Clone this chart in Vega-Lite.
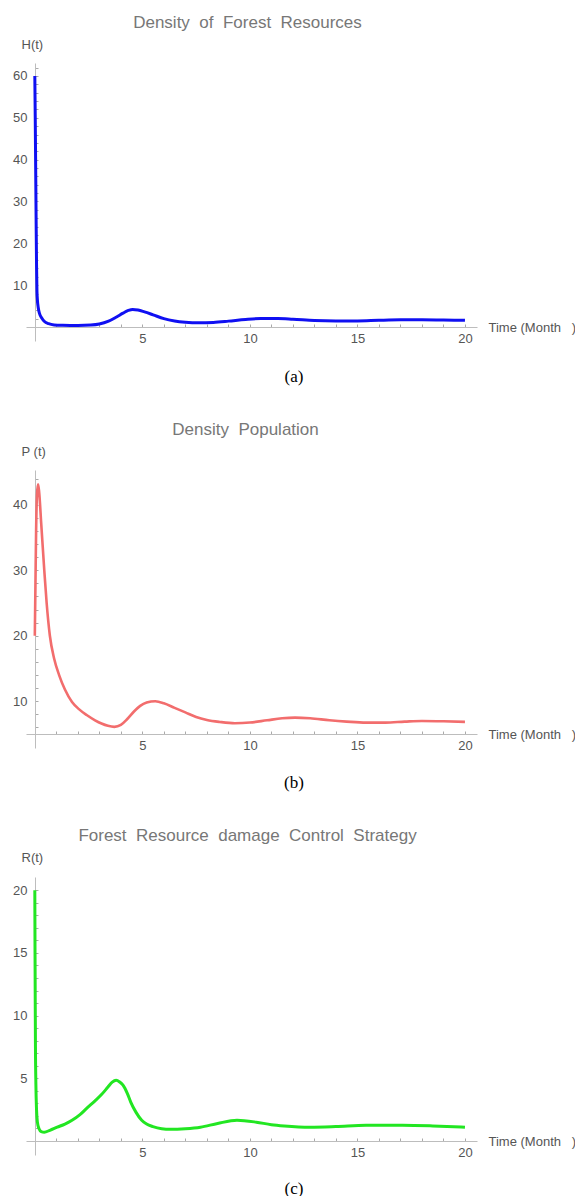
{
  "$schema": "https://vega.github.io/schema/vega-lite/v6.json",
  "padding": {"left": 12, "top": 14, "right": 0, "bottom": 0},
  "background": "white",
  "spacing": 37,
  "config": {
    "view": {"stroke": null},
    "axis": {"grid": false, "domainColor": "#bdbdbd", "tickColor": "#aaaaaa", "labelColor": "#555555", "labelFont": "Liberation Sans", "labelFontSize": 13, "titleFont": "Liberation Sans", "titleFontSize": 13, "titleFontWeight": "normal", "titleColor": "#555555"},
    "title": {"font": "Liberation Sans", "fontSize": 17, "fontWeight": "normal", "color": "#777777", "anchor": "middle", "frame": "group"}
  },
  "datasets": {
    "H": [
      {"t": 0, "v": 60}, {"t": 0.02, "v": 50}, {"t": 0.04, "v": 38}, {"t": 0.06, "v": 26}, {"t": 0.08, "v": 15},
      {"t": 0.1, "v": 8.5}, {"t": 0.12, "v": 6.5}, {"t": 0.16, "v": 4.6}, {"t": 0.22, "v": 3.2}, {"t": 0.33, "v": 2.1},
      {"t": 0.45, "v": 1.3}, {"t": 0.64, "v": 0.8}, {"t": 0.9, "v": 0.5}, {"t": 1.3, "v": 0.4}, {"t": 2.0, "v": 0.35},
      {"t": 2.6, "v": 0.45}, {"t": 3.0, "v": 0.7}, {"t": 3.43, "v": 1.4}, {"t": 3.8, "v": 2.4}, {"t": 4.1, "v": 3.3},
      {"t": 4.35, "v": 3.95}, {"t": 4.55, "v": 4.2}, {"t": 4.8, "v": 4.05}, {"t": 5.1, "v": 3.6}, {"t": 5.5, "v": 2.9},
      {"t": 6.0, "v": 2.0}, {"t": 6.5, "v": 1.45}, {"t": 7.0, "v": 1.15}, {"t": 7.6, "v": 1.0}, {"t": 8.3, "v": 1.1},
      {"t": 9.0, "v": 1.4}, {"t": 9.8, "v": 1.8}, {"t": 10.5, "v": 2.0}, {"t": 11.3, "v": 2.0}, {"t": 12.0, "v": 1.85},
      {"t": 13.0, "v": 1.55}, {"t": 14.0, "v": 1.45}, {"t": 15.0, "v": 1.45}, {"t": 16.0, "v": 1.6}, {"t": 17.0, "v": 1.7},
      {"t": 18.0, "v": 1.7}, {"t": 19.0, "v": 1.65}, {"t": 20.0, "v": 1.6}
    ],
    "P": [
      {"t": 0, "v": 20}, {"t": 0.03, "v": 28}, {"t": 0.06, "v": 36}, {"t": 0.1, "v": 41.5}, {"t": 0.15, "v": 43.1},
      {"t": 0.2, "v": 42}, {"t": 0.3, "v": 37}, {"t": 0.44, "v": 30}, {"t": 0.55, "v": 25}, {"t": 0.7, "v": 20},
      {"t": 0.9, "v": 16.5}, {"t": 1.13, "v": 14}, {"t": 1.4, "v": 11.8}, {"t": 1.73, "v": 9.9}, {"t": 2.05, "v": 8.8},
      {"t": 2.41, "v": 7.9}, {"t": 2.8, "v": 7.1}, {"t": 3.1, "v": 6.6}, {"t": 3.4, "v": 6.25}, {"t": 3.7, "v": 6.1},
      {"t": 4.0, "v": 6.4}, {"t": 4.3, "v": 7.3}, {"t": 4.6, "v": 8.4}, {"t": 4.9, "v": 9.3}, {"t": 5.2, "v": 9.8},
      {"t": 5.6, "v": 10.0}, {"t": 6.0, "v": 9.7}, {"t": 6.5, "v": 9.0}, {"t": 7.0, "v": 8.3}, {"t": 7.5, "v": 7.6},
      {"t": 8.0, "v": 7.15}, {"t": 8.6, "v": 6.85}, {"t": 9.3, "v": 6.65}, {"t": 10.0, "v": 6.75}, {"t": 10.8, "v": 7.1},
      {"t": 11.5, "v": 7.4}, {"t": 12.1, "v": 7.5}, {"t": 12.8, "v": 7.4}, {"t": 13.7, "v": 7.1}, {"t": 14.5, "v": 6.9},
      {"t": 15.4, "v": 6.75}, {"t": 16.3, "v": 6.75}, {"t": 17.2, "v": 6.9}, {"t": 18.0, "v": 7.0}, {"t": 19.0, "v": 6.95},
      {"t": 20.0, "v": 6.85}
    ],
    "R": [
      {"t": 0, "v": 20}, {"t": 0.01, "v": 15}, {"t": 0.02, "v": 11}, {"t": 0.03, "v": 7.5}, {"t": 0.05, "v": 4.5},
      {"t": 0.08, "v": 2.5}, {"t": 0.12, "v": 1.5}, {"t": 0.19, "v": 1.0}, {"t": 0.3, "v": 0.75}, {"t": 0.44, "v": 0.7},
      {"t": 0.7, "v": 0.85}, {"t": 1.04, "v": 1.1}, {"t": 1.4, "v": 1.35}, {"t": 1.73, "v": 1.65}, {"t": 2.1, "v": 2.1},
      {"t": 2.41, "v": 2.6}, {"t": 2.8, "v": 3.2}, {"t": 3.1, "v": 3.7}, {"t": 3.4, "v": 4.3}, {"t": 3.6, "v": 4.7},
      {"t": 3.78, "v": 4.85}, {"t": 3.95, "v": 4.7}, {"t": 4.1, "v": 4.45}, {"t": 4.3, "v": 3.8}, {"t": 4.46, "v": 3.1},
      {"t": 4.7, "v": 2.3}, {"t": 4.97, "v": 1.65}, {"t": 5.2, "v": 1.35}, {"t": 5.49, "v": 1.15}, {"t": 5.9, "v": 0.98},
      {"t": 6.3, "v": 0.93}, {"t": 7.0, "v": 0.98}, {"t": 7.7, "v": 1.1}, {"t": 8.5, "v": 1.4}, {"t": 9.4, "v": 1.65},
      {"t": 10.3, "v": 1.5}, {"t": 11.0, "v": 1.3}, {"t": 11.6, "v": 1.2}, {"t": 12.8, "v": 1.1}, {"t": 14.0, "v": 1.15},
      {"t": 15.4, "v": 1.25}, {"t": 17.1, "v": 1.25}, {"t": 18.5, "v": 1.2}, {"t": 20.0, "v": 1.1}
    ]
  },
  "vconcat": [
    {
      "width": 451, "height": 278,
      "title": {"text": "Density\u00a0\u00a0of\u00a0\u00a0Forest\u00a0\u00a0Resources", "dx": -4, "offset": 6},
      "data": {"name": "H"},
      "layer": [
        {
          "mark": {"type": "line", "color": "#1010f2", "strokeWidth": 3, "interpolate": "monotone"},
          "encoding": {
            "x": {"field": "t", "type": "quantitative", "scale": {"domain": [-0.41, 20.56], "nice": false, "zero": false},
              "axis": {"orient": "bottom", "values": [1,2,3,4,5,6,7,8,9,10,11,12,13,14,15,16,17,18,19,20], "labelExpr": "datum.value % 5 === 0 ? datum.label : ''", "tickSize": -3, "labelPadding": 8, "offset": -14, "labelFlush": false, "labelOverlap": false, "title": "Time (Month\u00a0\u00a0\u00a0)", "titleAlign": "left", "titleBaseline": "middle", "titleX": 462, "titleY": 0}},
            "y": {"field": "v", "type": "quantitative", "scale": {"domain": [-3.35, 63.1], "nice": false, "zero": false},
              "axis": {"values": [2,4,6,8,10,12,14,16,18,20,22,24,26,28,30,32,34,36,38,40,42,44,46,48,50,52,54,56,58,60,62], "labelExpr": "datum.value % 10 === 0 ? datum.label : ''", "tickSize": -3, "labelPadding": 11, "offset": -9, "labelOverlap": false, "title": "H(t)", "titleAngle": 0, "titleAlign": "left", "titleBaseline": "middle", "titleX": -14, "titleY": -19}}
          }
        },
        {
          "mark": {"type": "rule", "strokeOpacity": 0},
          "encoding": {"x": {"datum": 10, "type": "quantitative", "axis": {"orient": "bottom", "title": "(a)", "labels": false, "ticks": false, "domain": false, "titleFont": "Liberation Serif", "titleFontSize": 17, "titleColor": "#000000", "titleX": 267.5, "titleY": 35, "titleBaseline": "middle", "titleAlign": "center"}}}
        }
      ],
      "resolve": {"axis": {"x": "independent"}}
    },
    {
      "width": 451, "height": 278,
      "title": {"text": "Density\u00a0\u00a0Population", "dx": -6, "offset": 6},
      "data": {"name": "P"},
      "layer": [
        {
          "mark": {"type": "line", "color": "#f26d6d", "strokeWidth": 2.6, "interpolate": "monotone"},
          "encoding": {
            "x": {"field": "t", "type": "quantitative", "scale": {"domain": [-0.41, 20.56], "nice": false, "zero": false},
              "axis": {"orient": "bottom", "values": [1,2,3,4,5,6,7,8,9,10,11,12,13,14,15,16,17,18,19,20], "labelExpr": "datum.value % 5 === 0 ? datum.label : ''", "tickSize": -3, "labelPadding": 8, "offset": -14, "labelFlush": false, "labelOverlap": false, "title": "Time (Month\u00a0\u00a0\u00a0)", "titleAlign": "left", "titleBaseline": "middle", "titleX": 462, "titleY": 0}},
            "y": {"field": "v", "type": "quantitative", "scale": {"domain": [2.87, 45.3], "nice": false, "zero": false},
              "axis": {"values": [6,8,10,12,14,16,18,20,22,24,26,28,30,32,34,36,38,40,42,44], "labelExpr": "datum.value % 10 === 0 ? datum.label : ''", "tickSize": -3, "labelPadding": 11, "offset": -9, "labelOverlap": false, "title": "P (t)", "titleAngle": 0, "titleAlign": "left", "titleBaseline": "middle", "titleX": -14, "titleY": -19}}
          }
        },
        {
          "mark": {"type": "rule", "strokeOpacity": 0},
          "encoding": {"x": {"datum": 10, "type": "quantitative", "axis": {"orient": "bottom", "title": "(b)", "labels": false, "ticks": false, "domain": false, "titleFont": "Liberation Serif", "titleFontSize": 17, "titleColor": "#000000", "titleX": 267.5, "titleY": 34, "titleBaseline": "middle", "titleAlign": "center"}}}
        }
      ],
      "resolve": {"axis": {"x": "independent"}}
    },
    {
      "width": 451, "height": 278,
      "title": {"text": "Forest\u00a0\u00a0Resource\u00a0\u00a0damage\u00a0\u00a0Control\u00a0\u00a0Strategy", "dx": -4, "offset": 6},
      "data": {"name": "R"},
      "layer": [
        {
          "mark": {"type": "line", "color": "#22e622", "strokeWidth": 3, "interpolate": "monotone"},
          "encoding": {
            "x": {"field": "t", "type": "quantitative", "scale": {"domain": [-0.41, 20.56], "nice": false, "zero": false},
              "axis": {"orient": "bottom", "values": [1,2,3,4,5,6,7,8,9,10,11,12,13,14,15,16,17,18,19,20], "labelExpr": "datum.value % 5 === 0 ? datum.label : ''", "tickSize": -3, "labelPadding": 8, "offset": -14, "labelFlush": false, "labelOverlap": false, "title": "Time (Month\u00a0\u00a0\u00a0)", "titleAlign": "left", "titleBaseline": "middle", "titleX": 462, "titleY": 0}},
            "y": {"field": "v", "type": "quantitative", "scale": {"domain": [-1.12, 21.06], "nice": false, "zero": false},
              "axis": {"values": [1,2,3,4,5,6,7,8,9,10,11,12,13,14,15,16,17,18,19,20], "labelExpr": "datum.value % 5 === 0 ? datum.label : ''", "tickSize": -3, "labelPadding": 11, "offset": -9, "labelOverlap": false, "title": "R(t)", "titleAngle": 0, "titleAlign": "left", "titleBaseline": "middle", "titleX": -14, "titleY": -20}}
          }
        },
        {
          "mark": {"type": "rule", "strokeOpacity": 0},
          "encoding": {"x": {"datum": 10, "type": "quantitative", "axis": {"orient": "bottom", "title": "(c)", "labels": false, "ticks": false, "domain": false, "titleFont": "Liberation Serif", "titleFontSize": 17, "titleColor": "#000000", "titleX": 267.5, "titleY": 33, "titleBaseline": "middle", "titleAlign": "center"}}}
        }
      ],
      "resolve": {"axis": {"x": "independent"}}
    }
  ]
}
